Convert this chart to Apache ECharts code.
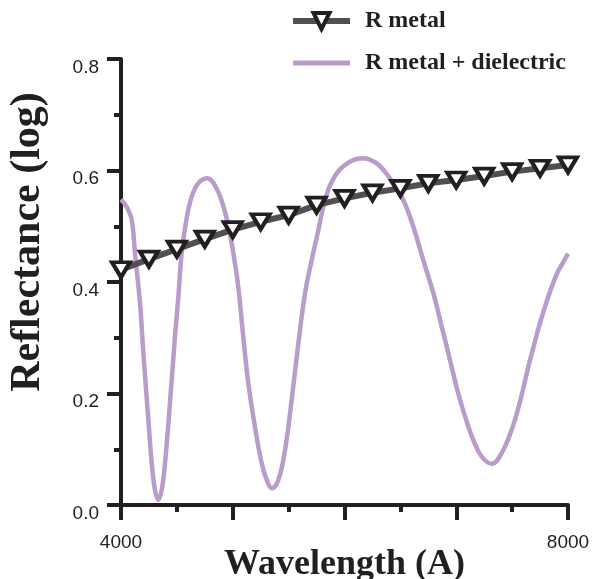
<!DOCTYPE html>
<html>
<head>
<meta charset="utf-8">
<script src="https://cdn.jsdelivr.net/npm/echarts@6/dist/echarts.min.js"></script>
<style>
html,body{margin:0;padding:0;background:#fff;}
#chart{width:595px;height:579px;}
</style>
</head>
<body>
<div id="chart"></div>
<script>
// R metal (markers every 250 A)
var metalWavelength = [4000,4250,4500,4750,5000,5250,5500,5750,6000,6250,6500,6750,7000,7250,7500,7750,8000];
var metalReflectance = [0.422,0.441,0.459,0.477,0.494,0.508,0.520,0.538,0.550,0.560,0.568,0.577,0.583,0.590,0.598,0.604,0.610];

// R metal + dielectric
var dielWavelength = [4000,4050,4096,4125,4170,4200,4245,4275,4304,4334,4364,4394,4438,4483,4513,4543,4588,4625,4665,4705,4745,4775,4810,4850,4890,4930,4970,5010,5050,5094,5139,5199,5259,5304,5349,5408,5468,5527,5587,5647,5706,5766,5810,5855,5900,5950,6000,6060,6120,6168,6220,6280,6340,6437,6526,6616,6705,6795,6870,6944,7018,7093,7152,7227,7317,7406,7496,7570,7645,7700,7749,7824,7899,7950,8000];
var dielReflectance = [0.548,0.535,0.511,0.452,0.362,0.273,0.152,0.075,0.027,0.009,0.027,0.075,0.183,0.302,0.373,0.452,0.515,0.548,0.569,0.580,0.585,0.586,0.582,0.570,0.552,0.526,0.492,0.446,0.390,0.302,0.219,0.140,0.075,0.045,0.030,0.045,0.099,0.188,0.290,0.380,0.439,0.493,0.535,0.566,0.585,0.600,0.609,0.617,0.621,0.622,0.620,0.614,0.603,0.577,0.547,0.499,0.439,0.380,0.320,0.260,0.200,0.150,0.117,0.087,0.074,0.093,0.135,0.185,0.248,0.290,0.326,0.374,0.414,0.433,0.451];

var xLabelsShown = [4000, 8000];
var seriesNames = ['R metal', 'R metal + dielectric'];
var xTitle = 'Wavelength (A)';
var yTitle = 'Reflectance (log)';

function pairs(xs, ys){ return xs.map(function(x,i){ return [x, ys[i]]; }); }

var ink = '#231f20';
var purple = '#b99bcc';
var gray = '#505052';
var chart = echarts.init(document.getElementById('chart'), null, {renderer:'canvas'});
chart.setOption({
  backgroundColor: '#ffffff',
  animation: false,
  grid: {left:121, right:27, top:59, bottom:74, containLabel:false, outerBoundsMode:'none'},
  legend: {
    orient: 'vertical',
    left: 290,
    top: 9,
    padding: 0,
    itemWidth: 57,
    itemHeight: 20,
    itemGap: 18,
    data: [
      {name: seriesNames[0], lineStyle:{width:6, color:gray}, itemStyle:{color:'#ffffff', borderColor:ink, borderWidth:4}},
      {name: seriesNames[1], lineStyle:{width:5, color:purple}, itemStyle:{opacity:0}}
    ],
    textStyle: {fontFamily:'Liberation Serif', fontWeight:'bold', fontSize:24, color:ink, padding:[0,0,0,10]}
  },
  xAxis: {
    type: 'value', min: 4000, max: 8000, interval: 1000,
    name: xTitle, nameLocation: 'middle', nameGap: 42, nameMoveOverlap: false,
    nameTextStyle: {fontFamily:'Liberation Serif', fontWeight:'bold', fontSize:36, color:ink},
    axisLine: {show:true, onZero:false, lineStyle:{color:ink, width:4}},
    axisTick: {show:true, length:15, lineStyle:{color:ink, width:4}},
    minorTick: {show:true, splitNumber:2, length:7, lineStyle:{color:ink, width:4}},
    splitLine: {show:false},
    axisLabel: {
      margin: 28, fontFamily:'Liberation Sans', fontSize:19, color:ink,
      formatter: function(v){ return xLabelsShown.indexOf(v) >= 0 ? String(v) : ''; }
    }
  },
  yAxis: {
    type: 'value', min: 0, max: 0.8, interval: 0.2,
    name: yTitle, nameLocation: 'middle', nameGap: 72, nameMoveOverlap: false,
    nameTextStyle: {fontFamily:'Liberation Serif', fontWeight:'bold', fontSize:42, color:ink, padding:[0,0,0,80]},
    axisLine: {show:true, onZero:false, lineStyle:{color:ink, width:4}},
    axisTick: {show:true, length:14, lineStyle:{color:ink, width:4}},
    minorTick: {show:true, splitNumber:2, length:7, lineStyle:{color:ink, width:4}},
    splitLine: {show:false},
    axisLabel: {
      margin: 22, fontFamily:'Liberation Sans', fontSize:19, color:ink,
      verticalAlign: 'top', lineHeight: 17,
      formatter: function(v){ return v.toFixed(1); }
    }
  },
  series: [
    {
      name: seriesNames[1], type: 'line', z: 2,
      data: pairs(dielWavelength, dielReflectance),
      smooth: 0.4, showSymbol: false, symbol: 'none',
      lineStyle: {color:purple, width:4.5},
      itemStyle: {color:purple}
    },
    {
      name: seriesNames[0], type: 'line', z: 3,
      data: pairs(metalWavelength, metalReflectance),
      symbol: 'triangle', symbolRotate: 180, symbolSize: [18, 15],
      lineStyle: {color:gray, width:6},
      itemStyle: {color:'#ffffff', borderColor:ink, borderWidth:4}
    }
  ]
});
</script>
</body>
</html>
